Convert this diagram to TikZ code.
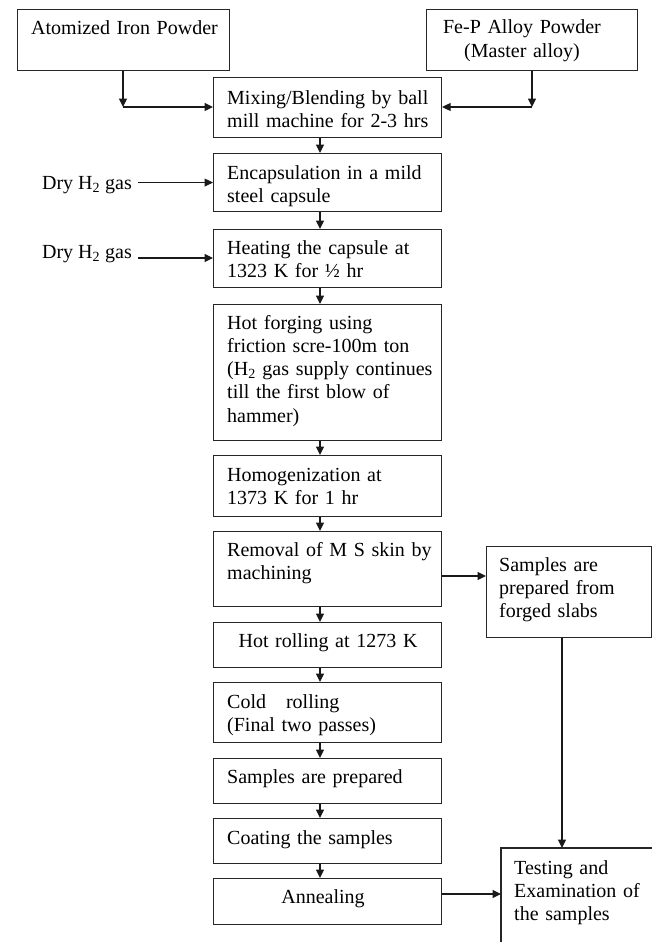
\documentclass[tikz,border=0pt]{standalone}
\usepackage{fontspec}
\setmainfont{Liberation Serif}
\usetikzlibrary{arrows.meta,calc}
\begin{document}
\begin{tikzpicture}[x=1pt,y=-1pt,
  box/.style={draw=black!85,line width=1.1pt,inner sep=0pt,anchor=north west},
  txt/.style={inner sep=0pt,anchor=base west,align=left,text width=215pt,font=\fontsize{20}{23.3}\selectfont},
  ctxt/.style={inner sep=0pt,anchor=base,align=center,text width=200pt,font=\fontsize{20}{23.3}\selectfont},
  arr/.style={draw=black!90,line width=1.1pt,-{Triangle[length=8.5pt,width=8pt]}},
  con/.style={draw=black!90,line width=1.1pt}]
\useasboundingbox[fill=white] (0,0) rectangle (652,942);
% boxes
\node[box,minimum width=212pt,minimum height=61pt] (atom) at (17,9) {};
\node[box,minimum width=211pt,minimum height=61pt] (fep) at (426,9) {};
\node[box,minimum width=228pt,minimum height=60pt] (mix) at (213,77) {};
\node[box,minimum width=228pt,minimum height=58pt] (enc) at (213,153) {};
\node[box,minimum width=228pt,minimum height=58pt] (heat) at (213,229) {};
\node[box,minimum width=228pt,minimum height=136pt] (forge) at (213,304) {};
\node[box,minimum width=228pt,minimum height=61pt] (homog) at (213,455) {};
\node[box,minimum width=228pt,minimum height=75pt] (rem) at (213,531) {};
\node[box,minimum width=228pt,minimum height=45pt] (hroll) at (213,622) {};
\node[box,minimum width=228pt,minimum height=60pt] (croll) at (213,682) {};
\node[box,minimum width=228pt,minimum height=45pt] (sprep) at (213,758) {};
\node[box,minimum width=228pt,minimum height=45pt] (coat) at (213,818) {};
\node[box,minimum width=228pt,minimum height=46pt] (anneal) at (213,878) {};
\node[box,minimum width=165pt,minimum height=91pt] (sforg) at (486,546) {};
\node[box,draw=none,minimum width=150pt,minimum height=95pt] (test) at (501,848) {};
\draw[box] (test.south west) -- (test.north west) -- (test.north east) -- (test.south east);
% texts
\node[txt] (atomt) at (31,35) {Atomized Iron Powder};
\node[ctxt] (fept) at (522,34) {Fe-P Alloy Powder\\(Master alloy)};
\node[txt] (mixt) at (227,104) {Mixing/Blending by ball\\mill machine for 2-3 hrs};
\node[txt] (enct) at (227,179) {Encapsulation in a mild\\steel capsule};
\node[txt] (heatt) at (227,254) {Heating the capsule at\\1323 K for ½ hr};
\node[txt] (forget) at (227,329) {Hot forging using\\friction scre-100m ton\\(H\textsubscript{2} gas supply continues\\till the first blow of\\hammer)};
\node[txt] (homogt) at (227,481) {Homogenization at\\1373 K for 1 hr};
\node[txt] (remt) at (227,556) {Removal of M S skin by\\machining};
\node[ctxt] (hrollt) at (328,647) {Hot rolling at 1273 K};
\node[txt] (crollt) at (227,708) {Cold\ \ \ rolling\\(Final two passes)};
\node[txt] (sprept) at (227,783) {Samples are prepared};
\node[txt] (coatt) at (227,844) {Coating the samples};
\node[ctxt] (annealt) at (323,903) {Annealing};
\node[txt,text width=150pt] (sforgt) at (499,571) {Samples are\\prepared from\\forged slabs};
\node[txt,text width=140pt] (testt) at (514,874) {Testing and\\Examination of\\the samples};
\node[inner sep=0pt,anchor=base east,font=\fontsize{20}{23.3}\selectfont] (gas1) at (132,189) {Dry H\textsubscript{2} gas};
\node[inner sep=0pt,anchor=base east,font=\fontsize{20}{23.3}\selectfont] (gas2) at (132,258) {Dry H\textsubscript{2} gas};
% connectors
\coordinate (cL) at (123,107);
\coordinate (cR) at (532,107);
\coordinate (col) at (320,0);
\draw[arr] (atom.south -| cL) -- (cL);
\draw[arr] (cL) -- (mix.west |- cL);
\draw[arr] (fep.south -| cR) -- (cR);
\draw[arr] (cR) -- (mix.east |- cR);
\draw[arr] (mix.south -| col) -- (enc.north -| col);
\draw[arr] (enc.south -| col) -- (heat.north -| col);
\draw[arr] (heat.south -| col) -- (forge.north -| col);
\draw[arr] (forge.south -| col) -- (homog.north -| col);
\draw[arr] (homog.south -| col) -- (rem.north -| col);
\draw[arr] (rem.south -| col) -- (hroll.north -| col);
\draw[arr] (hroll.south -| col) -- (croll.north -| col);
\draw[arr] (croll.south -| col) -- (sprep.north -| col);
\draw[arr] (sprep.south -| col) -- (coat.north -| col);
\draw[arr] (coat.south -| col) -- (anneal.north -| col);
\draw[arr] ([xshift=6pt]gas1.base east |- enc.west) -- (enc.west);
\draw[arr] ([xshift=6pt]gas2.base east) -- (gas2.base east -| heat.west);
\coordinate (rA) at (0,576);
\coordinate (tA) at (0,894);
\coordinate (vA) at (562,0);
\draw[arr] (rem.east |- rA) -- (sforg.west |- rA);
\draw[arr] (sforg.south -| vA) -- (test.north -| vA);
\draw[arr] (anneal.east |- tA) -- (test.west |- tA);
\end{tikzpicture}
\end{document}
